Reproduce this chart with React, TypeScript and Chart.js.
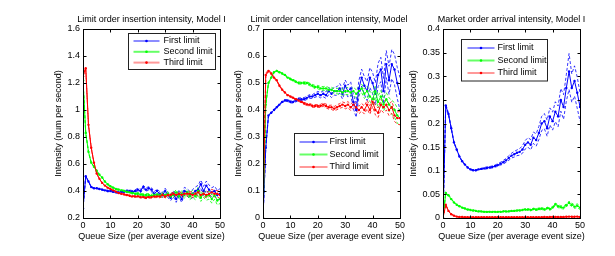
import React, { useEffect, useRef } from "react";
import { Chart, registerables } from "chart.js";

Chart.register(...registerables);

const FONT = '"Liberation Sans", Arial, Helvetica, sans-serif';

// ---------- data ----------
const queueSize = [0, 1, 2, 3, 4, 5, 6, 7, 8, 9, 10, 11, 12, 13, 14, 15, 16, 17, 18, 19, 20, 21, 22, 23, 24, 25, 26, 27, 28, 29, 30, 31, 32, 33, 34, 35, 36, 37, 38, 39, 40, 41, 42, 43, 44, 45, 46, 47, 48, 49, 50];
const xTickValues = [0, 10, 20, 30, 40, 50];
const seriesNames = ["First limit", "Second limit", "Third limit"];
const xAxisTitle = "Queue Size (per average event size)";
const yAxisTitle = "Intensity (num per second)";

// Panel 1: insertion
const insertionTitle = "Limit order insertion intensity, Model I";
const insertionYTicks = [0.2, 0.4, 0.6, 0.8, 1, 1.2, 1.4, 1.6];
const insertionFirst = [0.27, 0.51, 0.47, 0.43, 0.42, 0.42, 0.415, 0.41, 0.405, 0.40, 0.40, 0.395, 0.39, 0.39, 0.395, 0.395, 0.40, 0.40, 0.395, 0.40, 0.41, 0.40, 0.43, 0.41, 0.42, 0.41, 0.38, 0.40, 0.38, 0.37, 0.40, 0.37, 0.35, 0.38, 0.34, 0.38, 0.34, 0.40, 0.39, 0.37, 0.38, 0.40, 0.41, 0.45, 0.40, 0.44, 0.41, 0.39, 0.40, 0.37, 0.38];
const insertionSecond = [1.22, 0.83, 0.69, 0.61, 0.58, 0.55, 0.52, 0.50, 0.47, 0.45, 0.435, 0.425, 0.415, 0.41, 0.405, 0.40, 0.395, 0.39, 0.385, 0.38, 0.38, 0.375, 0.37, 0.37, 0.37, 0.365, 0.37, 0.37, 0.37, 0.37, 0.37, 0.38, 0.36, 0.37, 0.39, 0.36, 0.38, 0.37, 0.39, 0.36, 0.38, 0.36, 0.40, 0.35, 0.38, 0.36, 0.37, 0.34, 0.37, 0.33, 0.34];
const insertionThird = [1.25, 1.31, 0.89, 0.72, 0.61, 0.53, 0.49, 0.46, 0.44, 0.425, 0.415, 0.405, 0.395, 0.385, 0.38, 0.375, 0.37, 0.365, 0.36, 0.36, 0.36, 0.355, 0.355, 0.35, 0.355, 0.355, 0.36, 0.36, 0.36, 0.37, 0.36, 0.37, 0.37, 0.38, 0.37, 0.38, 0.37, 0.38, 0.38, 0.38, 0.37, 0.38, 0.39, 0.37, 0.38, 0.37, 0.38, 0.39, 0.38, 0.38, 0.37];
const insertionFirstErr = [0, 0.003, 0.003, 0.003, 0.003, 0.003, 0.004, 0.004, 0.004, 0.005, 0.005, 0.005, 0.006, 0.006, 0.006, 0.007, 0.007, 0.008, 0.008, 0.009, 0.01, 0.012, 0.011, 0.013, 0.012, 0.014, 0.015, 0.016, 0.015, 0.018, 0.02, 0.019, 0.021, 0.022, 0.024, 0.023, 0.025, 0.027, 0.026, 0.028, 0.03, 0.029, 0.032, 0.031, 0.034, 0.033, 0.035, 0.034, 0.036, 0.035, 0.037];
const insertionSecondErr = [0, 0.004, 0.004, 0.003, 0.003, 0.003, 0.003, 0.003, 0.003, 0.004, 0.004, 0.004, 0.005, 0.005, 0.005, 0.006, 0.006, 0.006, 0.007, 0.007, 0.008, 0.009, 0.009, 0.01, 0.011, 0.011, 0.012, 0.013, 0.013, 0.015, 0.016, 0.016, 0.017, 0.018, 0.019, 0.02, 0.021, 0.022, 0.022, 0.024, 0.025, 0.025, 0.027, 0.027, 0.028, 0.029, 0.03, 0.03, 0.031, 0.032, 0.033];
const insertionThirdErr = [0, 0.005, 0.004, 0.003, 0.003, 0.002, 0.002, 0.002, 0.002, 0.002, 0.003, 0.003, 0.003, 0.003, 0.004, 0.004, 0.004, 0.005, 0.005, 0.005, 0.006, 0.006, 0.007, 0.007, 0.008, 0.008, 0.009, 0.009, 0.01, 0.011, 0.011, 0.012, 0.012, 0.013, 0.014, 0.014, 0.015, 0.016, 0.016, 0.017, 0.018, 0.018, 0.019, 0.02, 0.02, 0.021, 0.022, 0.022, 0.023, 0.024, 0.024];

// Panel 2: cancellation
const cancelTitle = "Limit order cancellation intensity, Model I";
const cancelYTicks = [0, 0.1, 0.2, 0.3, 0.4, 0.5, 0.6, 0.7];
const cancelFirst = [0, 0.26, 0.38, 0.39, 0.40, 0.41, 0.42, 0.43, 0.435, 0.435, 0.43, 0.43, 0.435, 0.44, 0.44, 0.44, 0.445, 0.45, 0.45, 0.455, 0.46, 0.455, 0.46, 0.455, 0.47, 0.46, 0.47, 0.47, 0.48, 0.46, 0.49, 0.47, 0.48, 0.43, 0.40, 0.48, 0.52, 0.49, 0.47, 0.52, 0.50, 0.46, 0.53, 0.55, 0.47, 0.57, 0.51, 0.57, 0.55, 0.50, 0.46];
const cancelSecond = [0, 0.42, 0.50, 0.52, 0.54, 0.545, 0.54, 0.535, 0.53, 0.52, 0.515, 0.51, 0.505, 0.50, 0.50, 0.50, 0.50, 0.495, 0.49, 0.485, 0.485, 0.48, 0.48, 0.48, 0.475, 0.475, 0.47, 0.47, 0.47, 0.465, 0.47, 0.47, 0.465, 0.47, 0.46, 0.47, 0.48, 0.46, 0.47, 0.45, 0.44, 0.47, 0.43, 0.45, 0.42, 0.44, 0.42, 0.41, 0.40, 0.38, 0.37];
const cancelThird = [0, 0.53, 0.545, 0.535, 0.52, 0.51, 0.49, 0.475, 0.465, 0.455, 0.45, 0.445, 0.44, 0.435, 0.43, 0.425, 0.42, 0.42, 0.415, 0.415, 0.415, 0.415, 0.42, 0.415, 0.41, 0.41, 0.405, 0.41, 0.415, 0.42, 0.415, 0.42, 0.41, 0.42, 0.41, 0.40, 0.41, 0.40, 0.42, 0.40, 0.43, 0.40, 0.39, 0.42, 0.41, 0.42, 0.40, 0.41, 0.38, 0.37, 0.37];
const cancelFirstErr = [0, 0.005, 0.003, 0.003, 0.003, 0.003, 0.003, 0.003, 0.003, 0.004, 0.004, 0.004, 0.005, 0.005, 0.005, 0.006, 0.006, 0.007, 0.007, 0.008, 0.009, 0.01, 0.011, 0.012, 0.013, 0.014, 0.015, 0.016, 0.018, 0.019, 0.021, 0.022, 0.024, 0.026, 0.027, 0.029, 0.031, 0.033, 0.035, 0.037, 0.039, 0.041, 0.043, 0.045, 0.047, 0.05, 0.052, 0.054, 0.056, 0.058, 0.06];
const cancelSecondErr = [0, 0.005, 0.003, 0.003, 0.002, 0.002, 0.002, 0.002, 0.002, 0.003, 0.003, 0.003, 0.003, 0.004, 0.004, 0.004, 0.005, 0.005, 0.005, 0.006, 0.006, 0.007, 0.007, 0.008, 0.008, 0.009, 0.009, 0.01, 0.011, 0.011, 0.012, 0.013, 0.013, 0.014, 0.015, 0.016, 0.016, 0.017, 0.018, 0.019, 0.02, 0.021, 0.022, 0.022, 0.023, 0.024, 0.025, 0.026, 0.027, 0.028, 0.029];
const cancelThirdErr = [0, 0.006, 0.004, 0.003, 0.003, 0.002, 0.002, 0.002, 0.002, 0.002, 0.002, 0.003, 0.003, 0.003, 0.003, 0.004, 0.004, 0.004, 0.005, 0.005, 0.005, 0.006, 0.006, 0.007, 0.007, 0.008, 0.008, 0.009, 0.009, 0.01, 0.011, 0.011, 0.012, 0.012, 0.013, 0.014, 0.014, 0.015, 0.016, 0.016, 0.017, 0.018, 0.018, 0.019, 0.02, 0.02, 0.021, 0.022, 0.022, 0.023, 0.024];

// Panel 3: market orders
const marketTitle = "Market order arrival intensity, Model I";
const marketYTicks = [0, 0.05, 0.1, 0.15, 0.2, 0.25, 0.3, 0.35, 0.4];
const marketFirst = [0, 0.238, 0.22, 0.19, 0.16, 0.145, 0.13, 0.12, 0.113, 0.107, 0.103, 0.101, 0.101, 0.103, 0.104, 0.105, 0.106, 0.107, 0.108, 0.11, 0.112, 0.115, 0.118, 0.122, 0.127, 0.132, 0.135, 0.138, 0.14, 0.145, 0.155, 0.16, 0.155, 0.17, 0.165, 0.18, 0.2, 0.205, 0.19, 0.215, 0.205, 0.225, 0.215, 0.25, 0.235, 0.275, 0.31, 0.275, 0.29, 0.265, 0.235];
const marketSecond = [0, 0.053, 0.048, 0.04, 0.033, 0.028, 0.025, 0.022, 0.02, 0.018, 0.017, 0.016, 0.015, 0.014, 0.014, 0.013, 0.013, 0.013, 0.013, 0.013, 0.013, 0.013, 0.014, 0.014, 0.014, 0.015, 0.015, 0.016, 0.016, 0.017, 0.018, 0.018, 0.017, 0.019, 0.018, 0.019, 0.02, 0.018, 0.021, 0.019, 0.022, 0.029, 0.025, 0.023, 0.022, 0.027, 0.032, 0.028, 0.024, 0.026, 0.022];
const marketThird = [0, 0.028, 0.015, 0.008, 0.005, 0.003, 0.002, 0.002, 0.0015, 0.0015, 0.0015, 0.0015, 0.0015, 0.0015, 0.0015, 0.0015, 0.0015, 0.0015, 0.0015, 0.0015, 0.0015, 0.0015, 0.0015, 0.0015, 0.0015, 0.0015, 0.0015, 0.0015, 0.0015, 0.0015, 0.0015, 0.0015, 0.0015, 0.0015, 0.0015, 0.0015, 0.0015, 0.002, 0.0015, 0.002, 0.002, 0.002, 0.002, 0.002, 0.002, 0.0025, 0.003, 0.0025, 0.0025, 0.003, 0.002];
const marketFirstErr = [0, 0.003, 0.002, 0.002, 0.001, 0.001, 0.001, 0.001, 0.001, 0.001, 0.001, 0.001, 0.001, 0.001, 0.001, 0.002, 0.002, 0.002, 0.002, 0.002, 0.003, 0.003, 0.004, 0.004, 0.005, 0.005, 0.006, 0.006, 0.007, 0.008, 0.009, 0.01, 0.011, 0.012, 0.013, 0.014, 0.015, 0.016, 0.017, 0.018, 0.019, 0.021, 0.022, 0.024, 0.026, 0.028, 0.038, 0.03, 0.032, 0.033, 0.03];
const marketSecondErr = [0, 0.002, 0.002, 0.001, 0.001, 0.001, 0.001, 0.001, 0.001, 0.001, 0.001, 0.001, 0.001, 0.001, 0.001, 0.001, 0.001, 0.001, 0.001, 0.001, 0.001, 0.001, 0.001, 0.001, 0.001, 0.001, 0.001, 0.001, 0.001, 0.001, 0.0015, 0.0015, 0.0015, 0.0015, 0.002, 0.002, 0.002, 0.002, 0.002, 0.0025, 0.0025, 0.0025, 0.003, 0.003, 0.003, 0.003, 0.0035, 0.0035, 0.0035, 0.004, 0.004];
const marketThirdErr = [0, 0.001, 0.001, 0.0005, 0.0005, 0.0005, 0.0005, 0.0005, 0.0005, 0.0005, 0.0005, 0.0005, 0.0005, 0.0005, 0.0005, 0.0005, 0.0005, 0.0005, 0.0005, 0.0005, 0.0005, 0.0005, 0.0005, 0.0005, 0.0005, 0.0005, 0.0005, 0.0005, 0.0005, 0.0005, 0.0005, 0.0005, 0.0005, 0.0005, 0.0005, 0.0005, 0.0005, 0.0005, 0.0005, 0.0005, 0.0005, 0.0005, 0.0005, 0.0005, 0.0005, 0.0005, 0.0005, 0.0005, 0.0005, 0.0005, 0.0005];

// ---------- styles / layout ----------
const seriesColors = ["#0000ff", "#00ff00", "#ff0000"];
const legendFaint = ["rgba(0,0,255,0.45)", "rgba(0,255,0,0.6)", "rgba(255,0,0,0.4)"];

type LegendBox = { dx: number; dy: number; w: number; h: number; row0: number; gap: number; l0: number; l1: number; tx: number };
type PanelSpec = {
  title: string;
  yTicks: number[];
  means: number[][];
  errs: number[][];
  legend: LegendBox;
  yTitleX: number;
};

const panels: PanelSpec[] = [
  {
    title: insertionTitle,
    yTicks: insertionYTicks,
    means: [insertionFirst, insertionSecond, insertionThird],
    errs: [insertionFirstErr, insertionSecondErr, insertionThirdErr],
    legend: { dx: 45, dy: 4, w: 87, h: 36, row0: 7.5, gap: 10.8, l0: 5, l1: 31, tx: 35 },
    yTitleX: 59,
  },
  {
    title: cancelTitle,
    yTicks: cancelYTicks,
    means: [cancelFirst, cancelSecond, cancelThird],
    errs: [cancelFirstErr, cancelSecondErr, cancelThirdErr],
    legend: { dx: 31, dy: 104, w: 89, h: 42, row0: 8.5, gap: 12.5, l0: 5, l1: 33, tx: 35 },
    yTitleX: 59,
  },
  {
    title: marketTitle,
    yTicks: marketYTicks,
    means: [marketFirst, marketSecond, marketThird],
    errs: [marketFirstErr, marketSecondErr, marketThirdErr],
    legend: { dx: 18, dy: 10, w: 86, h: 41.5, row0: 8.5, gap: 12.5, l0: 6, l1: 33, tx: 36 },
    yTitleX: 53.5,
  },
];

const CANVAS_W = 230;
const CANVAS_H = 256;

const fmt = (v: number) => String(Math.round(v * 1000) / 1000);

function Panel({ spec, offset }: { spec: PanelSpec; offset: number }) {
  const ref = useRef<HTMLCanvasElement | null>(null);

  useEffect(() => {
    const canvas = ref.current;
    if (!canvas) return;

    const meanSets = [2, 1, 0].map((i) => ({
      data: queueSize.map((x, k) => ({ x, y: spec.means[i][k] })),
      borderColor: seriesColors[i],
      backgroundColor: seriesColors[i],
      borderWidth: 1,
      pointRadius: 1.2,
      pointBorderWidth: 0,
      pointBackgroundColor: seriesColors[i],
      tension: 0,
    }));
    const bandSets: any[] = [];
    [2, 1, 0].forEach((i) => {
      [1, -1].forEach((sgn) => {
        bandSets.push({
          data: queueSize.map((x, k) => ({ x, y: spec.means[i][k] + sgn * spec.errs[i][k] })),
          borderColor: seriesColors[i],
          borderWidth: 0.8,
          borderDash: [3, 2],
          pointRadius: 0,
          tension: 0,
        });
      });
    });

    const decor = {
      id: "decor",
      afterDraw(chart: any) {
        const ctx = chart.ctx as CanvasRenderingContext2D;
        const a = chart.chartArea;
        const xs = chart.scales.x;
        const ys = chart.scales.y;
        const L = Math.round(a.left) + 0.5;
        const R = Math.round(a.right) + 0.5;
        const T = Math.round(a.top) + 0.5;
        const B = Math.round(a.bottom) + 0.5;
        ctx.save();
        // frame
        ctx.strokeStyle = "#000";
        ctx.lineWidth = 1;
        ctx.setLineDash([]);
        ctx.strokeRect(L, T, R - L, B - T);
        // inward ticks
        ctx.beginPath();
        xTickValues.forEach((v) => {
          const px = Math.round(xs.getPixelForValue(v)) + 0.5;
          ctx.moveTo(px, B);
          ctx.lineTo(px, B - 3);
          ctx.moveTo(px, T);
          ctx.lineTo(px, T + 3);
        });
        spec.yTicks.forEach((v) => {
          const py = Math.round(ys.getPixelForValue(v)) + 0.5;
          ctx.moveTo(L, py);
          ctx.lineTo(L + 3, py);
          ctx.moveTo(R, py);
          ctx.lineTo(R - 3, py);
        });
        ctx.stroke();

        // legend
        const lg = spec.legend;
        const bx = Math.round(a.left + lg.dx) + 0.5;
        const by = Math.round(a.top + lg.dy) + 0.5;
        ctx.fillStyle = "#fff";
        ctx.fillRect(bx, by, lg.w, lg.h);
        ctx.strokeStyle = "#222";
        ctx.lineWidth = 1;
        ctx.strokeRect(bx, by, lg.w, lg.h);
        ctx.font = `9px ${FONT}`;
        ctx.textBaseline = "middle";
        ctx.textAlign = "left";
        seriesNames.forEach((name, i) => {
          const y = by + lg.row0 + i * lg.gap;
          ctx.strokeStyle = legendFaint[i];
          ctx.lineWidth = 2;
          ctx.beginPath();
          ctx.moveTo(bx + lg.l0, y);
          ctx.lineTo(bx + lg.l1, y);
          ctx.stroke();
          ctx.fillStyle = seriesColors[i];
          ctx.beginPath();
          ctx.arc(bx + (lg.l0 + lg.l1) / 2, y, 1.3, 0, Math.PI * 2);
          ctx.fill();
          ctx.fillStyle = "#000";
          ctx.fillText(name, bx + lg.tx, y);
        });

        // titles
        ctx.fillStyle = "#000";
        ctx.font = `9px ${FONT}`;
        ctx.textAlign = "center";
        ctx.textBaseline = "middle";
        const cx = (a.left + a.right) / 2;
        ctx.fillText(spec.title, cx, 20);
        ctx.fillText(xAxisTitle, cx, 236.7);
        ctx.save();
        ctx.translate(spec.yTitleX, (a.top + a.bottom) / 2);
        ctx.rotate(-Math.PI / 2);
        ctx.fillText(yAxisTitle, 0, 0);
        ctx.restore();
        ctx.restore();
      },
    };

    const tickFont = { family: FONT, size: 9 };
    const chart = new Chart(canvas, {
      type: "line",
      data: { datasets: [...meanSets, ...bandSets] as any },
      options: {
        animation: false,
        responsive: false,
        devicePixelRatio: 1,
        events: [],
        layout: { padding: { left: 0, right: 10, top: 29, bottom: 0 } },
        plugins: { legend: { display: false }, title: { display: false }, tooltip: { enabled: false } },
        scales: {
          x: {
            type: "linear",
            min: 0,
            max: 50,
            afterBuildTicks: (s: any) => {
              s.ticks = xTickValues.map((v) => ({ value: v }));
            },
            afterFit: (s: any) => {
              s.height = 38;
            },
            grid: { display: false, drawTicks: false },
            border: { display: false },
            ticks: { padding: 2, font: tickFont, color: "#000", autoSkip: false, maxRotation: 0, callback: (v: any) => fmt(Number(v)) },
          },
          y: {
            type: "linear",
            min: spec.yTicks[0],
            max: spec.yTicks[spec.yTicks.length - 1],
            afterBuildTicks: (s: any) => {
              s.ticks = spec.yTicks.map((v) => ({ value: v }));
            },
            afterFit: (s: any) => {
              s.width = 83;
            },
            grid: { display: false, drawTicks: false },
            border: { display: false },
            ticks: { padding: 3, font: tickFont, color: "#000", autoSkip: false, callback: (v: any) => fmt(Number(v)) },
          },
        },
      } as any,
      plugins: [decor],
    });
    return () => chart.destroy();
  }, [spec]);

  return (
    <canvas
      ref={ref}
      width={CANVAS_W}
      height={CANVAS_H}
      style={{ position: "absolute", left: offset, top: 0, width: CANVAS_W, height: CANVAS_H }}
    />
  );
}

export default function App() {
  return (
    <div style={{ position: "fixed", left: 0, top: 0, width: 615, height: 256, background: "#fff", overflow: "hidden" }}>
      {panels.map((p, i) => (
        <Panel key={i} spec={p} offset={i * 180} />
      ))}
    </div>
  );
}
